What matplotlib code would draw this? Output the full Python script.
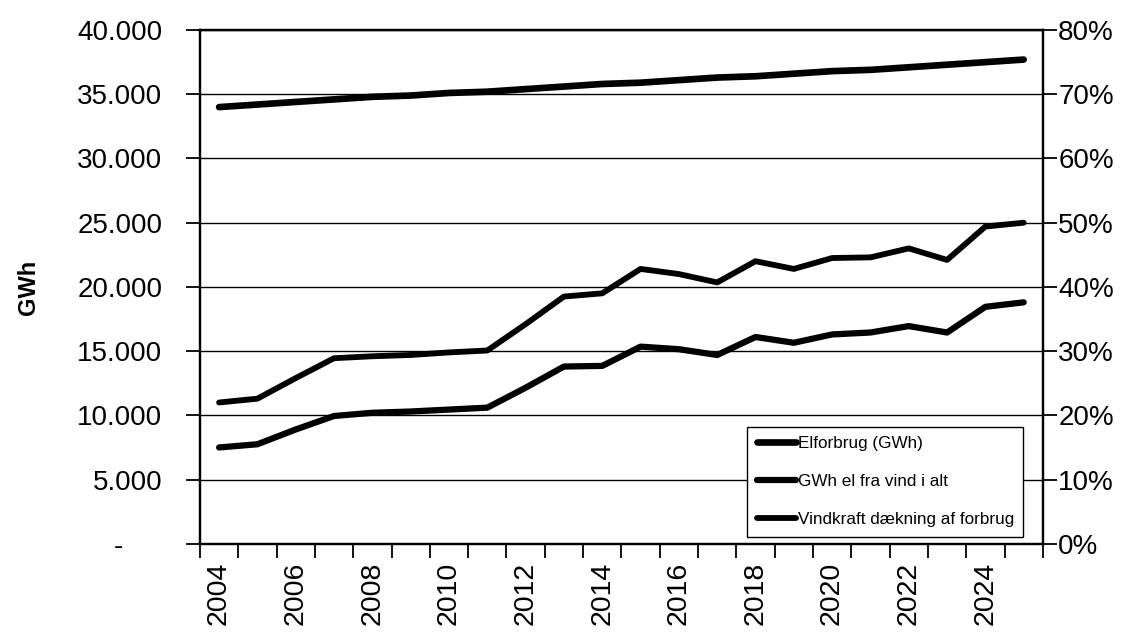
import matplotlib
matplotlib.use('Agg')
import matplotlib.pyplot as plt
from matplotlib.ticker import FuncFormatter

plt.rcParams['font.family'] = ['Liberation Sans', 'DejaVu Sans']

# yearly figures
years = list(range(2004, 2026))
elforbrug = [34000, 34200, 34400, 34600, 34800, 34900, 35100, 35200, 35400, 35600, 35800,
             35900, 36100, 36300, 36400, 36600, 36800, 36900, 37100, 37300, 37500, 37700]
vind_gwh = [7500, 7750, 8900, 9950, 10200, 10300, 10450, 10600, 12150, 13800, 13850,
            15350, 15150, 14700, 16100, 15650, 16300, 16450, 16950, 16450, 18450, 18800]
daekning = [22.0, 22.6, 25.8, 28.9, 29.2, 29.4, 29.8, 30.1, 34.2, 38.5, 39.0,
            42.8, 42.0, 40.7, 44.0, 42.8, 44.5, 44.6, 46.0, 44.2, 49.4, 50.0]

labels = ['Elforbrug (GWh)', 'GWh el fra vind i alt', 'Vindkraft dækning af forbrug']

fig = plt.figure(figsize=(11.36, 6.39), dpi=100)
ax = fig.add_axes([0.176, 0.149, 0.742, 0.804])
ax2 = ax.twinx()

l1, = ax.plot(years, elforbrug, color='black', lw=4.8, solid_capstyle='round', solid_joinstyle='round')
l2, = ax.plot(years, vind_gwh, color='black', lw=4.5, solid_capstyle='round', solid_joinstyle='round')
l3, = ax2.plot(years, daekning, color='black', lw=4.2, solid_capstyle='round', solid_joinstyle='round')

ax.set_ylim(0, 40000)
ax.set_yticks(range(0, 40001, 5000))
# danish thousands separator, zero shown as a dash
ax.yaxis.set_major_formatter(FuncFormatter(
    lambda v, p: '-     ' if v == 0 else '{:,.0f}'.format(v).replace(',', '.')))
ax.grid(axis='y', color='black', lw=1.0)
ax.set_axisbelow(True)

ax2.set_ylim(0, 80)
ax2.set_yticks(range(0, 81, 10))
ax2.yaxis.set_major_formatter(FuncFormatter(lambda v, p: '%d%%' % v))

ax.set_xlim(2003.5, 2025.5)
ax.set_xticks([y - 0.5 for y in years] + [2025.5])
ax.set_xticklabels([])
ax.set_xticks([y for y in years if y % 2 == 0], minor=True)
ax.set_xticklabels([str(y) for y in years if y % 2 == 0], minor=True, rotation=90)
ax.tick_params(axis='x', which='minor', length=0, pad=13, labelsize=20.5)
ax.tick_params(axis='x', which='major', length=10, width=1.3, direction='out')
ax.tick_params(axis='y', length=10, width=1.3, direction='out', labelsize=20, pad=17)
ax2.tick_params(axis='y', length=10, width=1.3, direction='out', labelsize=20, pad=1)

for a in (ax, ax2):
    for s in a.spines.values():
        s.set_linewidth(1.6)
        s.set_color('black')

ax.set_ylabel('GWh', fontsize=17, fontweight='bold')
ax.yaxis.set_label_coords(-0.19, 0.5)

leg = ax2.legend([l1, l2, l3], labels, loc='lower right', bbox_to_anchor=(0.977, 0.014),
                 fontsize=12.3, frameon=True, fancybox=False, framealpha=1,
                 edgecolor='black', handlelength=2.3, handletextpad=0.1,
                 labelspacing=1.35, borderpad=0.55, borderaxespad=0)
leg.get_frame().set_linewidth(1.0)

fig.savefig('out.png', dpi=100)
